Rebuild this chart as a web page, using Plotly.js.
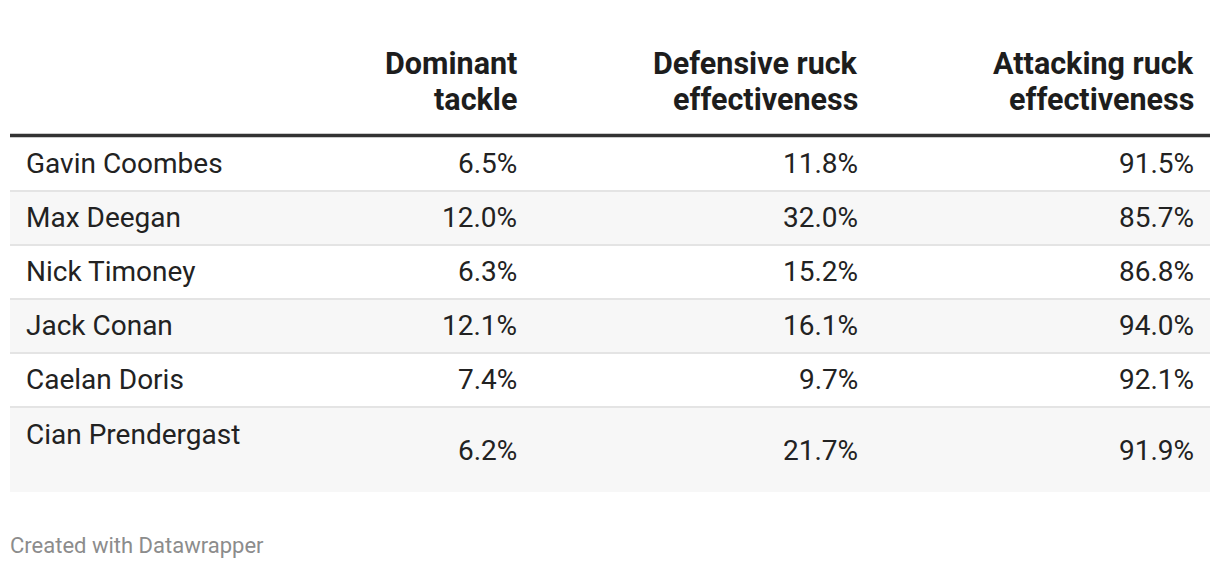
<!DOCTYPE html>
<html>
<head>
<meta charset="utf-8">
<script src="https://cdn.plot.ly/plotly-3.0.1.min.js"></script>
<style>
html,body{margin:0;padding:0;background:#fff;}
#chart{width:1220px;height:568px;}
</style>
</head>
<body>
<div id="chart"></div>
<script>
// ---- data ----
const players = ["Gavin Coombes", "Max Deegan", "Nick Timoney", "Jack Conan", "Caelan Doris", "Cian Prendergast"];
const dominantTackle = [6.5, 12.0, 6.3, 12.1, 7.4, 6.2];
const defensiveRuck = [11.8, 32.0, 15.2, 16.1, 9.7, 21.7];
const attackingRuck = [91.5, 85.7, 86.8, 94.0, 92.1, 91.9];
const headers = ["Dominant<br>tackle", "Defensive ruck<br>effectiveness", "Attacking ruck<br>effectiveness"];
const footer = "Created with Datawrapper";

// ---- layout constants ----
const W = 1220, H = 568;
const tableLeft = 10, tableRight = 1210;
const nameX = 25;
const colRight = [518, 859, 1195];
const headerLineY = 135.5;
const headerLineCenters = [63, 99];
const firstRowTop = 137;
const rowH = 54;
const lastRowH = 85;
const FONT = "Roboto, 'Noto Sans', sans-serif";

const columns = [dominantTackle, defensiveRuck, attackingRuck];

const shapes = [];
const annotations = [];

// header texts (one annotation per line for exact line spacing)
headers.forEach((h, j) => {
  h.split('<br>').forEach((line, k) => {
    annotations.push({
      x: colRight[j], y: headerLineCenters[k], xref: 'x', yref: 'y',
      text: line, showarrow: false, xanchor: 'right', yanchor: 'middle', align: 'right',
      font: {family: FONT, size: 30.5, color: '#1d1d1d', weight: 700},
      borderpad: 0
    });
  });
});

// rows
players.forEach((p, i) => {
  const top = firstRowTop + i * rowH;
  const isLast = (i === players.length - 1);
  const h = isLast ? lastRowH : rowH;
  const bottom = top + h;
  if (i % 2 === 1) {
    shapes.push({type: 'rect', xref: 'x', yref: 'y', x0: tableLeft, x1: tableRight, y0: top, y1: bottom,
      fillcolor: '#f7f7f7', line: {width: 0}, layer: 'below'});
  }
  if (i > 0) {
    shapes.push({type: 'line', xref: 'x', yref: 'y', x0: tableLeft, x1: tableRight, y0: top, y1: top,
      line: {color: '#e4e4e4', width: 2}});
  }
  const nameY = isLast ? top + 27 : top + (h / 2) - 0.5;
  const valY = isLast ? top + 43 : top + (h / 2) - 0.5;
  annotations.push({
    x: nameX, y: nameY, xref: 'x', yref: 'y', text: p, showarrow: false,
    xanchor: 'left', yanchor: 'middle', align: 'left', borderpad: 0,
    font: {family: FONT, size: 28, color: '#222222'}
  });
  columns.forEach((col, j) => {
    annotations.push({
      x: colRight[j], y: valY, xref: 'x', yref: 'y', text: col[i].toFixed(1) + '%', showarrow: false,
      xanchor: 'right', yanchor: 'middle', align: 'right', borderpad: 0,
      font: {family: FONT, size: 28, color: '#222222'}
    });
  });
});

// header rule
shapes.push({type: 'line', xref: 'x', yref: 'y', x0: tableLeft, x1: tableRight, y0: headerLineY, y1: headerLineY,
  line: {color: '#333333', width: 3.5}});

// footer
annotations.push({
  x: 9, y: 545, xref: 'x', yref: 'y', text: footer, showarrow: false,
  xanchor: 'left', yanchor: 'middle', align: 'left', borderpad: 0,
  font: {family: FONT, size: 22, color: '#8c8c8c'}
});

const layout = {
  width: W, height: H,
  margin: {l: 0, r: 0, t: 0, b: 0},
  paper_bgcolor: '#ffffff', plot_bgcolor: '#ffffff',
  xaxis: {range: [0, W], visible: false, fixedrange: true},
  yaxis: {range: [H, 0], visible: false, fixedrange: true},
  showlegend: false,
  shapes: shapes,
  annotations: annotations
};

Plotly.newPlot('chart', [{type: 'scatter', x: [], y: [], hoverinfo: 'skip'}], layout, {displayModeBar: false, staticPlot: true});
</script>
</body>
</html>
